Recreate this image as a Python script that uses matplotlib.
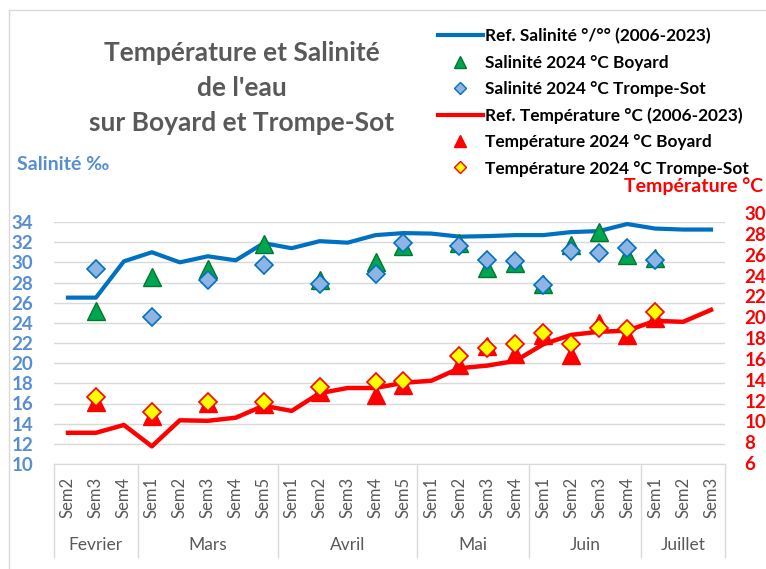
import matplotlib.pyplot as plt
from matplotlib.lines import Line2D
import numpy as np

plt.rcParams["font.family"] = ["Lato", "DejaVu Sans"]

nan = np.nan
weeks = ["Sem2", "Sem3", "Sem4",
         "Sem1", "Sem2", "Sem3", "Sem4", "Sem5",
         "Sem1", "Sem2", "Sem3", "Sem4", "Sem5",
         "Sem1", "Sem2", "Sem3", "Sem4",
         "Sem1", "Sem2", "Sem3", "Sem4",
         "Sem1", "Sem2", "Sem3"]
months = ["Fevrier", "Mars", "Avril", "Mai", "Juin", "Juillet"]
month_len = [3, 5, 5, 4, 4, 3]

sal_ref = [26.5, 26.5, 30.1, 31.0, 30.0, 30.6, 30.2, 31.9, 31.4, 32.1, 31.95, 32.7,
           32.9, 32.85, 32.55, 32.6, 32.7, 32.7, 33.0, 33.1, 33.8, 33.35, 33.25, 33.25]
sal_boyard = [nan, 25.2, nan, 28.5, nan, 29.3, nan, 31.8, nan, 28.2, nan, 30.0,
              31.6, nan, 31.9, 29.4, 29.9, 27.9, 31.7, 33.0, 30.7, 30.4, nan, nan]
sal_ts = [nan, 29.3, nan, 24.55, nan, 28.2, nan, 29.7, nan, 27.9, nan, 28.85,
          31.9, nan, 31.6, 30.2, 30.1, 27.75, 31.1, 30.9, 31.45, 30.2, nan, nan]

temp_ref = [8.9, 8.9, 9.65, 7.6, 10.1, 10.05, 10.35, 11.5, 11.0, 12.7, 13.2, 13.2,
            13.7, 13.9, 15.1, 15.35, 15.8, 17.4, 18.3, 18.6, 18.7, 19.65, 19.55, 20.7]
temp_boyard = [nan, 11.9, nan, 10.5, nan, 11.8, nan, 11.7, nan, 12.85, nan, 12.5,
               13.5, nan, 15.4, 17.2, 16.5, 18.3, 16.4, 19.4, 18.3, 19.9, nan, nan]
temp_ts = [nan, 12.35, nan, 10.9, nan, 11.9, nan, 11.9, nan, 13.3, nan, 13.8,
           13.9, nan, 16.3, 17.05, 17.4, 18.5, 17.4, 19.0, 18.9, 20.5, nan, nan]

W, H = 766, 569
grey = "#595959"
grid = "#D9D9D9"
blue_txt = "#558ED5"
x = np.arange(len(weeks))

fig = plt.figure(figsize=(W / 100, H / 100), dpi=100)
ax = fig.add_axes([54 / W, 1 - 464 / H, 671 / W, 242 / H])
ax2 = fig.add_axes([54 / W, 1 - 463 / H, 671 / W, 250 / H], sharex=ax)
ax2.patch.set_visible(False)

# salinity (left axis)
ax.plot(x, sal_ref, color="#0070C0", lw=3, zorder=3)
ax.plot(x, sal_boyard, ls="none", marker="^", ms=13, mfc="#00A550", mec="#00782F", mew=1, zorder=4)
ax.plot(x, sal_ts, ls="none", marker="D", ms=9.5, mfc="#8EB4E3", mec="#0070C0", mew=1.2, zorder=5)
ax.set_ylim(10, 34)
ax.set_yticks(range(10, 35, 2))
ax.set_xlim(-0.5, len(weeks) - 0.5)
ax.grid(axis="y", color=grid, lw=1)
ax.set_axisbelow(True)
for s in ["top", "left", "right"]:
    ax.spines[s].set_visible(False)
ax.spines["bottom"].set_color(grid)
ax.tick_params(axis="y", length=0, pad=15, labelsize=13.5, labelcolor=blue_txt)
for t in ax.get_yticklabels():
    t.set_fontweight("bold")
ax.set_xticks(x)
ax.set_xticklabels(weeks, rotation=90, color=grey, fontsize=12)
ax.tick_params(axis="x", length=0, pad=9)

# temperature (right axis)
ax2.plot(x, temp_ref, color="#FF0000", lw=3.2, zorder=3)
ax2.plot(x, temp_boyard, ls="none", marker="^", ms=13, mfc="#FF0000", mec="#FF0000", zorder=4)
ax2.plot(x, temp_ts, ls="none", marker="D", ms=9.5, mfc="#FFFF00", mec="#FF0000", mew=1.2, zorder=5)
ax2.set_ylim(6, 30)
ax2.set_yticks(range(6, 31, 2))
ax2.yaxis.tick_right()
ax2.tick_params(axis="y", length=0, pad=14, labelsize=13.5, labelcolor="#FF0000")
for t in ax2.get_yticklabels():
    t.set_fontweight("bold")
ax2.tick_params(axis="x", bottom=False, labelbottom=False)
for s in ax2.spines.values():
    s.set_visible(False)

# month groups under the week labels
tr = ax.get_xaxis_transform()
start = 0
bounds = [-0.5]
for m, n in zip(months, month_len):
    ax.text(start + (n - 1) / 2, -0.335, m, transform=tr, ha="center", va="center",
            fontsize=12.5, color=grey)
    start += n
    bounds.append(start - 0.5)
for b in bounds:
    ax.plot([b, b], [0, -0.384], transform=tr, clip_on=False, color=grid, lw=1)

# titles
title = ["Température et Salinité", "de l'eau", "sur Boyard et Trompe-Sot"]
for i, line in enumerate(title):
    fig.text(242 / W, 1 - (53 + 35 * i) / H, line, ha="center", va="center",
             fontsize=19, fontweight="bold", color=grey)
fig.text(17 / W, 1 - 165 / H, "Salinité ‰", ha="left", va="center",
         fontsize=14, fontweight="bold", color=blue_txt)
fig.text(763 / W, 1 - 186 / H, "Température °C", ha="right", va="center",
         fontsize=14, fontweight="bold", color="#FF0000")

# legend
handles = [
    Line2D([], [], color="#0070C0", lw=3),
    Line2D([], [], ls="none", marker="^", ms=8, mfc="#00A550", mec="#00782F"),
    Line2D([], [], ls="none", marker="D", ms=6, mfc="#8EB4E3", mec="#0070C0"),
    Line2D([], [], color="#FF0000", lw=3),
    Line2D([], [], ls="none", marker="^", ms=8, mfc="#FF0000", mec="#FF0000"),
    Line2D([], [], ls="none", marker="D", ms=6, mfc="#FFFF00", mec="#FF0000"),
]
labels = [
    "Ref. Salinité °/°° (2006-2023)",
    "Salinité 2024 °C Boyard",
    "Salinité 2024 °C Trompe-Sot",
    "Ref. Température °C (2006-2023)",
    "Température 2024 °C Boyard",
    "Température 2024 °C Trompe-Sot",
]
fig.legend(handles, labels, loc="upper left", bbox_to_anchor=(438 / W, 1 - 28 / H),
           frameon=False, borderpad=0, borderaxespad=0, handlelength=2.6,
           handletextpad=0.15, labelspacing=0.6, prop={"size": 12.4, "weight": "bold"})

# chart border
fig.add_artist(Line2D([9 / W, 9 / W], [0, 1 - 10 / H], transform=fig.transFigure, color=grid, lw=1))
fig.add_artist(Line2D([9 / W, 1], [1 - 10 / H, 1 - 10 / H], transform=fig.transFigure, color=grid, lw=1))

fig.savefig("out.png", dpi=100)
